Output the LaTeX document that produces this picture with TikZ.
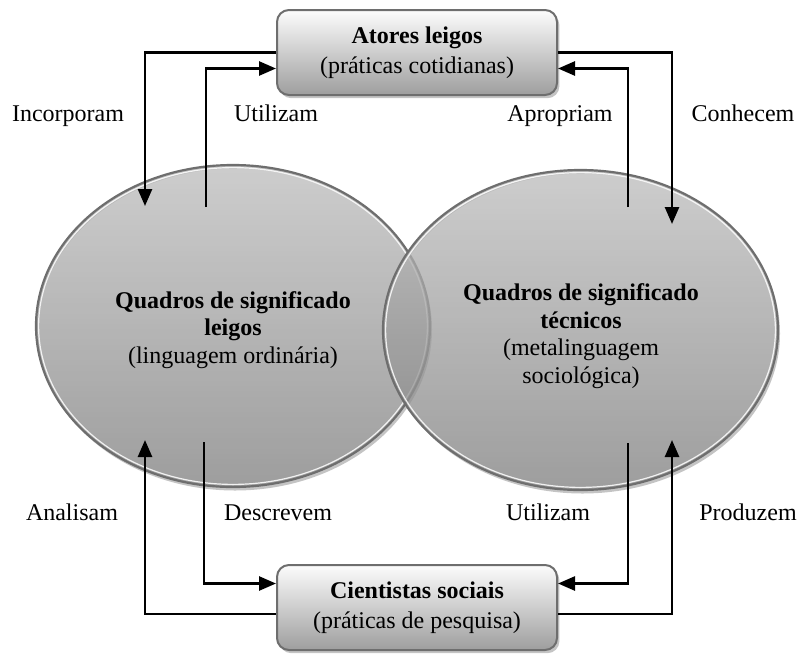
\documentclass[tikz,border=0pt]{standalone}
\usepackage{fontspec}
\setmainfont{Liberation Serif}
\usetikzlibrary{arrows.meta,shapes.geometric,shadows}

\definecolor{rimgray}{RGB}{110,110,110}
\definecolor{shadowgray}{RGB}{196,196,196}
\definecolor{ovaltop}{RGB}{190,190,190}
\definecolor{ovalmid}{RGB}{178,178,178}
\definecolor{ovalbot}{RGB}{128,128,128}
\definecolor{boxtop}{RGB}{252,252,252}
\definecolor{boxmid}{RGB}{214,214,214}
\definecolor{boxbot}{RGB}{158,158,158}

\tikzset{
  oval/.style={ellipse, draw=rimgray, line width=1.1pt, inner sep=0pt,
    top color=ovaltop, middle color=ovalmid, bottom color=ovalbot,
    fill opacity=0.77, draw opacity=1},
  ovaltext/.style={align=center, inner sep=0pt,
    font=\fontsize{12}{13.8}\selectfont},
  practice/.style={rectangle, rounded corners=6pt, draw=rimgray, line width=1pt,
    top color=boxtop, middle color=boxmid, bottom color=boxbot,
    minimum width=140pt, minimum height=42.5pt, inner sep=0pt, align=center,
    font=\fontsize{12}{14.8}\selectfont,
    general shadow={fill=shadowgray, shadow xshift=1.2pt, shadow yshift=-1.6pt}},
  link/.style={draw=black, line width=1.3pt,
    -{Triangle[length=8.5pt,width=7pt]}},
  verb/.style={anchor=base, inner sep=0pt, font=\fontsize{12}{14}\selectfont},
  rimshadow/.style={fill=shadowgray, even odd rule},
  innerrim/.style={draw=white, line width=0.6pt, draw opacity=0.85}
}

\begin{document}
\begin{tikzpicture}[x=0.5pt,y=-0.5pt]
\useasboundingbox (0,0) rectangle (797,654);

% left oval: lay meaning frames
\fill[rimshadow] (235,329.5) ellipse [x radius=98.5pt, y radius=80.5pt]
                 (233,326) ellipse [x radius=98.5pt, y radius=80.5pt];
\node[oval, minimum width=197pt, minimum height=161pt] (lay) at (233,326) {};
\draw[innerrim] (lay.center) ellipse [x radius=97.2pt, y radius=79.2pt];
\node[ovaltext] (laytext) at (233,330)
  {\textbf{Quadros de significado}\\\textbf{leigos}\\(linguagem ordinária)};

% right oval: technical meaning frames
\fill[rimshadow] (582.5,333.5) ellipse [x radius=98.75pt, y radius=80pt]
                 (580.5,330) ellipse [x radius=98.75pt, y radius=80pt];
\node[oval, minimum width=197.5pt, minimum height=160pt] (tech) at (580.5,330) {};
\draw[innerrim] (tech.center) ellipse [x radius=97.45pt, y radius=78.7pt];
\node[ovaltext] (techtext) at (581,336)
  {\textbf{Quadros de significado}\\\textbf{técnicos}\\(metalinguagem\\sociológica)};

% practice boxes
\node[practice] (actors) at (417,52.5)
  {\textbf{Atores leigos}\\(práticas cotidianas)};
\node[practice] (science) at (417,607.5)
  {\textbf{Cientistas sociais}\\(práticas de pesquisa)};

% free ends of the connectors inside the ovals
\coordinate (incEnd)  at (145,206);
\coordinate (utiStart) at (206,207);
\coordinate (aprStart) at (628,207);
\coordinate (conEnd)  at (672,224);
\coordinate (anaEnd)  at (145,440);
\coordinate (desStart) at (204,442);
\coordinate (utbStart) at (628,443);
\coordinate (proEnd)  at (672,440);

% connectors
\draw[link] (actors.west) -| (incEnd);
\draw[link] (utiStart) |- ([yshift=-8pt]actors.west);
\draw[link] (aprStart) |- ([yshift=-8pt]actors.east);
\draw[link] (actors.east) -| (conEnd);

\draw[link] (desStart) |- ([yshift=12pt]science.west);
\draw[link] ([yshift=-3.25pt]science.west) -| (anaEnd);
\draw[link] (utbStart) |- ([yshift=12pt]science.east);
\draw[link] ([yshift=-3.25pt]science.east) -| (proEnd);

% connector labels
\node[verb] (lInc) at (68,121) {Incorporam};
\node[verb] (lUti) at (276,121) {Utilizam};
\node[verb] (lApr) at (560,121) {Apropriam};
\node[verb] (lCon) at (743,121) {Conhecem};
\node[verb] (lAna) at (72,520) {Analisam};
\node[verb] (lDes) at (278,520) {Descrevem};
\node[verb] (lUtb) at (548,520) {Utilizam};
\node[verb] (lPro) at (748,520) {Produzem};
\end{tikzpicture}
\end{document}
